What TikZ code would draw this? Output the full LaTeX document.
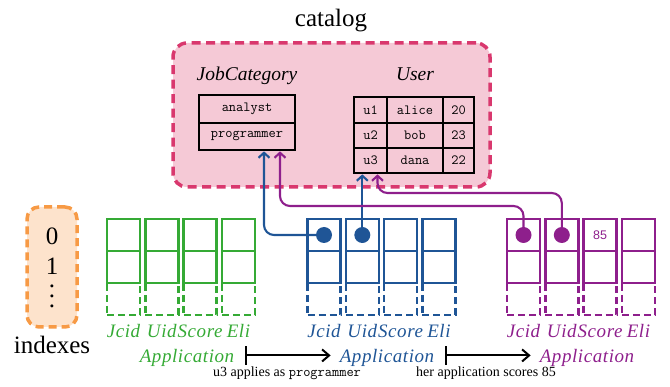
\documentclass[tikz,border=0pt]{standalone}
\usepackage{fontspec}
\setmainfont{Liberation Serif}
\setsansfont{Liberation Sans}
\newfontfamily\labelfont[LetterSpace=3]{Liberation Serif}
\usetikzlibrary{arrows.meta}

\definecolor{grn}{HTML}{35AA35}
\definecolor{blu}{HTML}{1F5596}
\definecolor{pur}{HTML}{8E1F8C}
\definecolor{pinkfill}{HTML}{F5C9D6}
\definecolor{pinkline}{HTML}{D9386E}
\definecolor{orangefill}{HTML}{FDE3CC}
\definecolor{orangeline}{HTML}{F79A45}

\tikzset{
  tcell/.style={draw=black, line width=2.2pt, inner sep=0pt,
    font=\ttfamily\fontsize{14}{14}\selectfont},
  cellbox/.style={draw=#1, line width=2.4pt, inner sep=0pt,
    minimum width=33pt, minimum height=32pt},
  ghostbox/.style={cellbox=#1, dash pattern=on 7pt off 4pt},
  conn/.style={draw=#1, line width=2.1pt, rounded corners=10pt,
    -{Straight Barb[length=5pt,width=11pt]}},
  flow/.style={draw=black, line width=2pt,
    {Bar[width=19pt]}-{Straight Barb[length=7pt,width=12pt]}},
  fieldlbl/.style={anchor=base, inner sep=0pt, text=#1,
    font=\labelfont\itshape\fontsize{19}{19}\selectfont},
  caption/.style={anchor=base, inner sep=0pt, font=\fontsize{14}{14}\selectfont},
  idxtext/.style={inner sep=0pt, font=\fontsize{25}{25}\selectfont},
}

% one record column: top cell, second cell, dashed continuation
\newcommand\recordcolumn[3]{%
  \node[cellbox=#3] (#1) at (#2,235) {};
  \node[cellbox=#3] (#1b) at (#2,267) {};
  \node[ghostbox=#3] (#1c) at (#2,299) {};
}

\begin{document}
\begin{tikzpicture}[x=1pt,y=-1pt]
\useasboundingbox (0,0) rectangle (670,387);

% ---------- catalog ----------
\node[anchor=base, inner sep=0pt, font=\fontsize{25}{25}\selectfont] (cattitle) at (331,27) {catalog};
\node[draw=pinkline, fill=pinkfill, line width=3.5pt, dash pattern=on 9pt off 5.5pt,
      rounded corners=14pt, minimum width=317pt, minimum height=144pt] (catbox) at (331.5,115) {};

\node[anchor=base, inner sep=0pt, font=\itshape\fontsize{19.5}{19.5}\selectfont] (jctitle) at (247,81) {JobCategory};
\node[anchor=base, inner sep=0pt, font=\itshape\fontsize{19.5}{19.5}\selectfont] (usertitle) at (415,81) {User};

% JobCategory table
\node[tcell, minimum width=96pt, minimum height=27.5pt] (analyst) at (247,109) {analyst};
\node[tcell, minimum width=96pt, minimum height=27.5pt] (prog) at (247,136.5) {programmer};

% User table
\node[tcell, minimum width=33pt, minimum height=25.5pt] (u1) at (370.5,110) {u1};
\node[tcell, minimum width=56pt, minimum height=25.5pt] (alice) at (415,110) {alice};
\node[tcell, minimum width=31pt, minimum height=25.5pt] (a20) at (458.5,110) {20};
\node[tcell, minimum width=33pt, minimum height=25.5pt] (u2) at (370.5,135.5) {u2};
\node[tcell, minimum width=56pt, minimum height=25.5pt] (bob) at (415,135.5) {bob};
\node[tcell, minimum width=31pt, minimum height=25.5pt] (a23) at (458.5,135.5) {23};
\node[tcell, minimum width=33pt, minimum height=25.5pt] (u3) at (370.5,160.5) {u3};
\node[tcell, minimum width=56pt, minimum height=25.5pt] (dana) at (415,160.5) {dana};
\node[tcell, minimum width=31pt, minimum height=25.5pt] (a22) at (458.5,160.5) {22};

% ---------- indexes ----------
\node[draw=orangeline, fill=orangefill, line width=3.5pt, dash pattern=on 8pt off 5pt,
      rounded corners=12pt, minimum width=50pt, minimum height=120pt] (idxbox) at (52,267) {};
\node[idxtext] (i0) at (52,236) {0};
\node[idxtext] (i1) at (52,266) {1};
\node[idxtext] (idot1) at (52,286) {.};
\node[idxtext] (idot2) at (52,296) {.};
\node[idxtext] (idot3) at (52,306) {.};
\node[idxtext, anchor=base] (idxlbl) at (52,354) {indexes};

% ---------- Application records ----------
\recordcolumn{g1}{123.5}{grn}
\recordcolumn{g2}{161.8}{grn}
\recordcolumn{g3}{200.1}{grn}
\recordcolumn{g4}{238.4}{grn}

\recordcolumn{b1}{324}{blu}
\recordcolumn{b2}{362.3}{blu}
\recordcolumn{b3}{400.6}{blu}
\recordcolumn{b4}{438.9}{blu}

\recordcolumn{p1}{523.5}{pur}
\recordcolumn{p2}{561.8}{pur}
\recordcolumn{p3}{600.1}{pur}
\recordcolumn{p4}{638.4}{pur}

\node[text=pur, font=\sffamily\fontsize{12.5}{12.5}\selectfont, inner sep=0pt] (score85) at (p3.center) {85};

% field names
\coordinate (fieldrow) at (0,338);
\foreach \grp/\col in {g/grn, b/blu, p/pur}{
  \node[fieldlbl=\col] (\grp lj) at (\grp1.center |- fieldrow) {Jcid};
  \node[fieldlbl=\col] (\grp lu) at (\grp2.center |- fieldrow) {Uid};
  \node[fieldlbl=\col] (\grp ls) at (\grp3.center |- fieldrow) {Score};
  \node[fieldlbl=\col] (\grp le) at (\grp4.center |- fieldrow) {Eli};
}
\node[fieldlbl=grn] (appG) at (187,363) {Application};
\node[fieldlbl=blu] (appB) at (387,363) {Application};
\node[fieldlbl=pur] (appP) at (587,363) {Application};

% ---------- references into the catalog ----------
\coordinate (laneA) at (0,206);
\coordinate (laneB) at (0,193);

\draw[conn=blu] (b1.center) -| ([xshift=17pt]prog.south);
\draw[conn=blu] (b2.center) -- (b2.center |- u3.south);
\draw[conn=pur] (p1.center) -- (p1.center |- laneA) -| ([xshift=33pt]prog.south);
\draw[conn=pur] (p2.center) -- (p2.center |- laneB) -| ([xshift=7pt]u3.south);

\fill[blu] (b1.center) circle (8pt);
\fill[blu] (b2.center) circle (8pt);
\fill[pur] (p1.center) circle (8pt);
\fill[pur] (p2.center) circle (8pt);

% ---------- evolution steps ----------
\draw[flow] ([xshift=11pt,yshift=3pt]appG.east) -- ([xshift=-9pt,yshift=3pt]appB.west);
\draw[flow] ([xshift=11pt,yshift=3pt]appB.east) -- ([xshift=-9pt,yshift=3pt]appP.west);

\node[caption] (cap1) at (287,377) {u3 applies as \texttt{programmer}};
\node[caption] (cap2) at (486,377) {her application scores 85};
\end{tikzpicture}
\end{document}
